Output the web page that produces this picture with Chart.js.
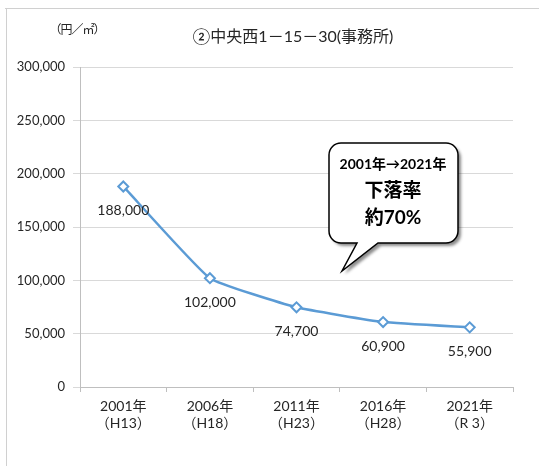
<!DOCTYPE html>
<html>
<head>
<meta charset="utf-8">
<script src="https://cdn.jsdelivr.net/npm/chart.js@4"></script>
<style>
  html, body { margin: 0; padding: 0; background: #fff; }
  #wrap { width: 539px; height: 466px; }
</style>
</head>
<body>
<div id="wrap"><canvas id="kakaku"></canvas></div>
<script>
// 地価の推移（中央西1-15-30 事務所）
const nendo = [["2001年", "（H13）"], ["2006年", "（H18）"], ["2011年", "（H23）"], ["2016年", "（H28）"], ["2021年", "（R 3）"]];
const kakaku = [188000, 102000, 74700, 60900, 55900];
const yTicks = [0, 50000, 100000, 150000, 200000, 250000, 300000];

const midashi = "②中央西1－15－30(事務所)";
const tani = "（円／㎡）";
const fukidashi = ["2001年→2021年", "下落率", "約70%"];

const moji = "Lato, 'Noto Sans CJK JP', sans-serif";
const iro = "#262626";

// 枠線・見出し・データラベル・吹き出し
const kakikomi = {
    id: "kakikomi",
    beforeDraw(chart) {
        const ctx = chart.ctx;
        ctx.save();
        ctx.fillStyle = "#fff";
        ctx.fillRect(0, 0, chart.width, chart.height);
        ctx.strokeStyle = "#d0d0d0";
        ctx.lineWidth = 1;
        ctx.beginPath();
        ctx.moveTo(5, 8.5);
        ctx.lineTo(chart.width, 8.5);
        ctx.moveTo(6.5, 8);
        ctx.lineTo(6.5, chart.height);
        ctx.stroke();

        ctx.fillStyle = iro;
        ctx.textBaseline = "middle";
        ctx.textAlign = "center";
        ctx.font = "16px " + moji;
        ctx.fillText(midashi, 293, 37);
        ctx.font = "12px " + moji;
        ctx.letterSpacing = "-1px";
        ctx.fillText(tani, 77, 30);
        ctx.restore();
    },
    afterDatasetsDraw(chart) {
        const ctx = chart.ctx;
        const meta = chart.getDatasetMeta(0);
        ctx.save();
        ctx.fillStyle = iro;
        ctx.font = "14px " + moji;
        ctx.textAlign = "center";
        ctx.textBaseline = "middle";
        meta.data.forEach((pt, i) => {
            ctx.fillText(kakaku[i].toLocaleString("en-US"), pt.x, pt.y + 24);
        });

        // 吹き出し
        const x0 = 329, y0 = 143, x1 = 458, y1 = 243, r = 12;
        const katachi = () => {
            ctx.beginPath();
            ctx.moveTo(x0 + r, y0);
            ctx.lineTo(x1 - r, y0);
            ctx.arcTo(x1, y0, x1, y0 + r, r);
            ctx.lineTo(x1, y1 - r);
            ctx.arcTo(x1, y1, x1 - r, y1, r);
            ctx.lineTo(378, y1);
            ctx.lineTo(342, 271);
            ctx.lineTo(357, y1);
            ctx.lineTo(x0 + r, y1);
            ctx.arcTo(x0, y1, x0, y1 - r, r);
            ctx.lineTo(x0, y0 + r);
            ctx.arcTo(x0, y0, x0 + r, y0, r);
            ctx.closePath();
        };
        ctx.save();
        ctx.shadowColor = "rgba(0,0,0,0.45)";
        ctx.shadowBlur = 3;
        ctx.shadowOffsetX = 3;
        ctx.shadowOffsetY = 3;
        katachi();
        ctx.fillStyle = "#fff";
        ctx.fill();
        ctx.restore();
        katachi();
        ctx.strokeStyle = "#000";
        ctx.lineWidth = 1.5;
        ctx.stroke();

        ctx.fillStyle = "#000";
        ctx.font = "bold 14px " + moji;
        ctx.fillText(fukidashi[0], 393, 164);
        ctx.font = "bold 19px " + moji;
        ctx.fillText(fukidashi[1], 393, 191);
        ctx.fillText(fukidashi[2], 393, 218);
        ctx.restore();
    }
};

new Chart(document.getElementById("kakaku"), {
    type: "line",
    data: {
        labels: nendo,
        datasets: [{
            data: kakaku,
            borderColor: "#5b9bd5",
            borderWidth: 2.5,
            tension: 0.12,
            pointStyle: "rectRot",
            pointRadius: 5,
            pointBorderWidth: 2,
            pointBackgroundColor: "#fff",
            pointBorderColor: "#5b9bd5"
        }]
    },
    options: {
        responsive: true,
        maintainAspectRatio: false,
        animation: false,
        layout: { padding: { left: 10, right: 26, top: 67, bottom: 0 } },
        plugins: {
            legend: { display: false },
            tooltip: { enabled: false }
        },
        scales: {
            x: {
                offset: true,
                grid: { offset: true, drawOnChartArea: false, drawTicks: true, tickLength: 5, color: "#bfbfbf" },
                border: { color: "#bfbfbf" },
                ticks: {
                    color: iro,
                    padding: 6,
                    maxRotation: 0,
                    font: { family: moji, size: 14, lineHeight: 1.22 }
                },
                afterFit(s) { s.height = 466 - 387; }
            },
            y: {
                min: 0,
                max: 300000,
                afterBuildTicks(s) { s.ticks = yTicks.map(v => ({ value: v })); },
                grid: { color: "#d9d9d9", tickLength: 7, drawTicks: true },
                border: { color: "#bfbfbf" },
                ticks: {
                    color: iro,
                    padding: 8,
                    font: { family: moji, size: 13 },
                    callback: v => v.toLocaleString("en-US")
                },
                afterFit(s) { s.width = 80 - 10; }
            }
        }
    },
    plugins: [kakikomi]
});
</script>
</body>
</html>
